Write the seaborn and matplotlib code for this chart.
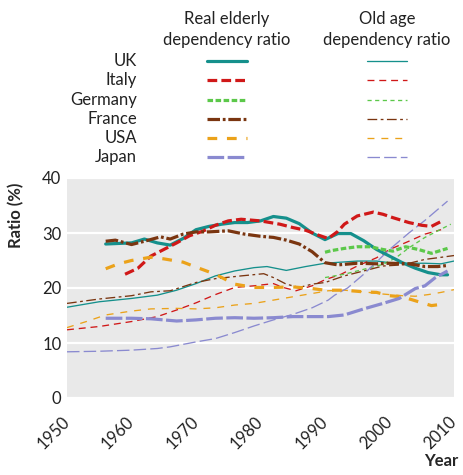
import matplotlib
matplotlib.use('Agg')
import matplotlib.pyplot as plt
from matplotlib.lines import Line2D
import seaborn as sns

# Real elderly dependency ratio (thick lines)
uk_real_years = [1956, 1958, 1960, 1962, 1964, 1966, 1968, 1970, 1972, 1974, 1976, 1978, 1980, 1982,
                 1984, 1986, 1988, 1990, 1992, 1994, 1996, 1998, 2000, 2002, 2004, 2006, 2008, 2009]
uk_real = [28.0, 28.1, 28.2, 28.9, 28.2, 27.8, 29.0, 30.6, 31.2, 31.6, 31.9, 31.9, 32.2, 33.0,
           32.7, 31.7, 30.0, 28.8, 29.9, 29.9, 28.6, 27.0, 25.8, 24.6, 23.6, 22.8, 22.4, 22.4]

italy_real_years = [1959, 1961, 1963, 1965, 1967, 1969, 1971, 1973, 1975, 1977, 1980, 1983, 1985, 1987,
                    1989, 1990.5, 1992, 1993, 1995, 1997.5, 1999, 2000.5, 2003, 2005, 2006.5, 2008]
italy_real = [22.5, 23.6, 25.8, 27.0, 28.2, 29.5, 30.3, 31.4, 32.2, 32.5, 32.2, 31.6, 31.0, 30.5,
              29.6, 29.0, 30.3, 31.6, 33.1, 33.8, 33.4, 32.8, 31.9, 31.4, 31.2, 32.1]

germany_real_years = [1990, 1991, 1993, 1995, 1997, 1999, 2000.5, 2002.5, 2004.5, 2006.5, 2009]
germany_real = [26.5, 26.8, 27.2, 27.5, 27.5, 27.0, 26.7, 27.5, 27.0, 26.3, 27.2]

france_real_years = [1956, 1957.5, 1960, 1962, 1964.5, 1966, 1968, 1970, 1972, 1975, 1977.5, 1980, 1982,
                     1984, 1986, 1988, 1990, 1992, 1995, 1998, 2000, 2003, 2005.5, 2007.5, 2009]
france_real = [28.5, 28.7, 27.9, 28.5, 29.3, 28.9, 29.8, 30.2, 30.2, 30.4, 29.8, 29.4, 29.2,
               28.7, 28.0, 26.6, 24.6, 24.2, 24.5, 24.4, 24.5, 24.4, 23.9, 23.9, 24.1]

usa_real_years = [1956, 1958, 1960, 1963, 1965, 1968, 1970, 1973, 1976, 1979, 1982, 1985, 1988, 1990,
                  1993, 1996, 1998, 2000, 2002, 2004.5, 2006.5, 2008.5]
usa_real = [23.5, 24.4, 25.0, 25.6, 25.3, 24.7, 23.8, 22.5, 20.7, 20.1, 20.1, 20.2, 19.9, 19.6,
            19.6, 19.3, 19.2, 18.6, 18.4, 17.5, 16.8, 17.1]

japan_real_years = [1956, 1960, 1963, 1967, 1970, 1973, 1976, 1979, 1982, 1985, 1988, 1990.5, 1993,
                    1996, 1999, 2001.5, 2004, 2005.5, 2007, 2009]
japan_real = [14.5, 14.5, 14.4, 14.0, 14.2, 14.5, 14.6, 14.5, 14.6, 14.8, 14.8, 14.8, 15.1,
              16.2, 17.2, 18.1, 19.9, 20.4, 21.8, 23.1]

# Old age dependency ratio (thin lines)
uk_old_years = [1950, 1955, 1960, 1964, 1967, 1970, 1973, 1976, 1979, 1981, 1984, 1987, 1990, 1995,
                1998, 2000, 2003, 2005.5, 2008, 2010]
uk_old = [16.5, 17.5, 18.1, 18.7, 19.6, 20.8, 22.2, 23.1, 23.7, 23.9, 23.2, 23.9, 24.5, 24.9,
          24.9, 24.6, 24.5, 24.5, 24.4, 24.9]

italy_old_years = [1950, 1955, 1960, 1964, 1967, 1970, 1973, 1976, 1979, 1982, 1983.5, 1985.5, 1988,
                   1990, 1992.5, 1995, 1998, 2000, 2003, 2005.5, 2008]
italy_old = [12.4, 13.0, 13.9, 14.8, 16.0, 17.3, 18.8, 20.1, 20.4, 20.8, 20.1, 19.5, 20.4,
             21.5, 22.5, 24.0, 25.5, 27.0, 28.5, 29.8, 30.6]

germany_old_years = [1990, 1993, 1996, 1999, 2001, 2003, 2005.5, 2007.5, 2009.5]
germany_old = [21.9, 22.5, 23.4, 24.3, 25.5, 27.3, 29.2, 30.4, 31.6]

france_old_years = [1950, 1955, 1960, 1963, 1966, 1970, 1973, 1977, 1980.5, 1982, 1984, 1986, 1988,
                    1990, 1993, 1996, 1999, 2002, 2005.5, 2007.5, 2010]
france_old = [17.2, 18.0, 18.6, 19.3, 19.5, 21.0, 21.7, 22.2, 22.6, 21.9, 20.7, 20.1, 20.7,
              21.0, 22.2, 23.1, 24.0, 24.2, 25.2, 25.5, 25.9]

usa_old_years = [1950, 1953, 1956, 1960, 1963, 1967, 1970, 1973, 1976, 1979, 1982, 1985, 1988, 1990.5,
                 1993, 1996, 1999, 2002, 2004, 2006, 2008, 2010]
usa_old = [12.8, 13.9, 15.1, 15.8, 16.2, 16.3, 16.2, 16.4, 16.9, 17.2, 17.8, 18.4, 19.0, 19.5,
           19.6, 19.3, 18.9, 18.6, 18.5, 18.8, 19.2, 19.7]

japan_old_years = [1950, 1955, 1960, 1964, 1966, 1970, 1973, 1976, 1979, 1982, 1985, 1988, 1990.5,
                   1991.5, 1993.5, 1996, 2000, 2003, 2005.5, 2009]
japan_old = [8.4, 8.5, 8.7, 9.0, 9.3, 10.2, 10.8, 11.9, 13.1, 14.2, 15.2, 16.4, 17.8,
             18.7, 20.0, 22.5, 27.0, 30.0, 32.3, 35.8]

countries = ['UK', 'Italy', 'Germany', 'France', 'USA', 'Japan']
colors = ['#15908c', '#d01818', '#5cc84a', '#7a3510', '#eba21a', '#8a8ad0']
dash_real = ['-', (0, (7, 3)), (0, (4, 1.8)), (0, (9, 2, 2, 2)), (0, (7, 7)), (0, (12, 2.5))]
dash_old = ['-', (0, (5, 3.5)), (0, (3, 2.5)), (0, (7, 2.5, 2, 2.5)), (0, (5, 5)), (0, (9, 3))]

real_series = [(uk_real_years, uk_real), (italy_real_years, italy_real),
               (germany_real_years, germany_real), (france_real_years, france_real),
               (usa_real_years, usa_real), (japan_real_years, japan_real)]
old_series = [(uk_old_years, uk_old), (italy_old_years, italy_old),
              (germany_old_years, germany_old), (france_old_years, france_old),
              (usa_old_years, usa_old), (japan_old_years, japan_old)]

sns.set_style('white')
plt.rcParams['font.family'] = ['Lato', 'DejaVu Sans']
plt.rcParams['lines.scale_dashes'] = False

LW_THICK = 2.3
LW_THIN = 0.95

fig = plt.figure(figsize=(4.63, 4.75), dpi=100)
ax = fig.add_axes([67 / 463, 1 - 398 / 475, 387 / 463, 220 / 475])
ax.set_facecolor('#e9e9e9')

for (yrs, vals), c, ls in zip(old_series, colors, dash_old):
    sns.lineplot(x=yrs, y=vals, ax=ax, color=c, linewidth=LW_THIN, linestyle=ls)
for (yrs, vals), c, ls in zip(real_series, colors, dash_real):
    sns.lineplot(x=yrs, y=vals, ax=ax, color=c, linewidth=LW_THICK, linestyle=ls)

ax.set_xlim(1950, 2010)
ax.set_ylim(0, 40)
ax.set_xticks(range(1950, 2011, 10))
ax.set_yticks(range(0, 41, 10))
ax.set_xticklabels([str(y) for y in range(1950, 2011, 10)], rotation=45,
                   ha='right', va='center', rotation_mode='anchor', fontsize=12)
ax.tick_params(axis='y', length=0, labelsize=12, pad=4, labelcolor='#222222')
ax.tick_params(axis='x', length=3, direction='in', color='white', labelsize=12,
               pad=15, labelcolor='#222222')
ax.yaxis.grid(True, color='white', linewidth=1.6)
ax.xaxis.grid(False)
ax.set_axisbelow(True)
for s in ax.spines.values():
    s.set_visible(False)

ax.set_xlabel('')
ax.set_ylabel('Ratio (%)', fontsize=12, fontweight='bold')
ax.yaxis.set_label_coords(-0.11, 0.83)
fig.text(0.99, 0.012, 'Year', ha='right', va='bottom', fontsize=12, fontweight='bold')

# legend block
fig.text(227 / 463, 1 - 29.5 / 475, 'Real elderly\ndependency ratio', ha='center', va='center',
         fontsize=12, linespacing=1.35, color='#222222')
fig.text(387 / 463, 1 - 29.5 / 475, 'Old age\ndependency ratio', ha='center', va='center',
         fontsize=12, linespacing=1.35, color='#222222')
row_y = [61, 80, 100, 119, 138, 157]
for name, c, lr, lo, ry in zip(countries, colors, dash_real, dash_old, row_y):
    yf = 1 - ry / 475
    fig.text(137 / 463, yf, name, ha='right', va='center', fontsize=12, color='#222222')
    fig.add_artist(Line2D([207 / 463, 247 / 463], [yf, yf], color=c, lw=LW_THICK, linestyle=lr))
    fig.add_artist(Line2D([367 / 463, 407 / 463], [yf, yf], color=c, lw=LW_THIN, linestyle=lo))

fig.savefig('out.png', dpi=100)
